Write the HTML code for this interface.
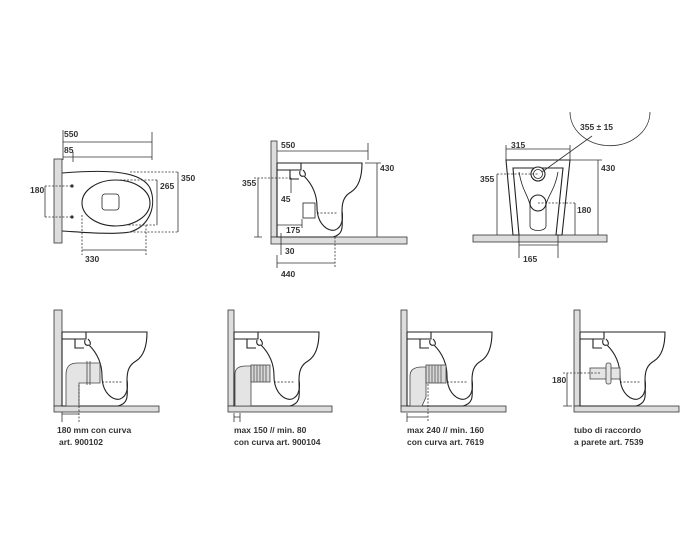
<!DOCTYPE html>
<html><head><meta charset="utf-8"><style>
html,body{margin:0;padding:0;background:#fff;}
svg{display:block;}
text{font-family:"Liberation Sans",Arial,sans-serif;font-size:8.5px;fill:#333;}
.b{font-weight:bold;}
</style></head><body>
<svg width="684" height="544" viewBox="0 0 684 544" xmlns="http://www.w3.org/2000/svg">
<defs>
<g id="prof" fill="none" stroke="#222" stroke-width="1.1">
  <path d="M0,-74 L85,-74 C85,-60 82,-50 74,-45 C67,-41 65,-35 65,-26 C65,-12 68,-3 56,0" fill="#fff"/>
  <path d="M0,-74 L0,0 L56,0"/>
  <path d="M0,-74 L24,-74 L24,-67 L0,-67"/>
  <path d="M13,-67 L13,-58 L22,-58"/>
  <path d="M23,-66 C22,-62 24,-60 27,-61 M26,-67 C28,-65 29,-63 28,-61"/>
  <path d="M27,-61 C33,-55 40,-45 40,-30 C40,-12 52,-5 58,-7 C66,-10 66,-20 65,-26"/>
  <path d="M40,-24 L61,-24" stroke-dasharray="2,1.5" stroke-width="0.8"/>
</g>
</defs>
<g stroke="#333" stroke-width="0.8" fill="none">
<!-- PLAN VIEW -->
<rect x="54" y="159" width="8" height="84" fill="#ddd"/>
<path d="M62,173 C100,170 140,169 150,188 C157,205 150,226 130,232 C110,235 80,232 62,231" stroke-width="1.1" stroke="#222"/>
<ellipse cx="116" cy="203" rx="34" ry="23" stroke-width="1.1" stroke="#222"/>
<rect x="102" y="194" width="17" height="16" rx="3" stroke="#222"/>
<circle cx="72" cy="186" r="1.2" fill="#333"/><circle cx="72" cy="217" r="1.2" fill="#333"/>
<path d="M63,130 L63,160 M63,142 L152,142 M152,132 L152,160 M63,157 L152,157 M73,152 L73,162"/>
<path d="M130,172 L178,172 M130,232 L178,232 M120,180 L157,180 M125,225 L157,225" stroke-dasharray="2,1.5"/>
<path d="M157,180 L157,225 M178,172 L178,232"/>
<path d="M82,215 L82,255 M146,225 L146,255" stroke-dasharray="2,1.5"/>
<path d="M82,250 L146,250"/>
<path d="M45,186 L72,186 M45,217 L72,217" stroke-dasharray="2,1.5"/>
<path d="M45,186 L45,217"/>
<!-- SIDE VIEW -->
<rect x="271" y="141" width="6" height="96" fill="#ddd"/>
<rect x="271" y="237" width="136" height="7" fill="#ddd"/>
<use href="#prof" x="277" y="237"/>
<rect x="303" y="203" width="12" height="15" stroke="#222"/>
<path d="M277,151 L368,151 M368,143 L368,160"/>
<path d="M365,163 L381,163 M377,163 L377,237"/>
<path d="M254,178 L291,178" stroke-dasharray="2,1.5"/>
<path d="M258,178 L258,237 M254,237 L262,237 M291,178 L291,193 M277,225 L302,225 M302,219 L302,228 M281,233 L281,255 M277,263 L335,263 M277,255 L277,268"/>
<path d="M335,237 L335,268" stroke-dasharray="2,1.5"/>
<!-- FRONT VIEW -->
<rect x="473" y="235" width="134" height="7" fill="#ddd"/>
<path d="M506,160 L570,160 L562,235 L556,235 L563,168 L513,168 L519,235 L513,235 Z" stroke="#222" stroke-width="1.1"/>
<path d="M519,172 C522,190 528,195 530,205 L530,226 C530,232 546,232 546,226 L546,205 C548,195 555,190 558,172" stroke="#222"/>
<circle cx="538" cy="174" r="7" stroke="#222" stroke-width="1.1" fill="#fff"/><circle cx="538" cy="174" r="4.5" stroke="#222"/>
<circle cx="538" cy="203" r="8" stroke="#222" stroke-width="1.1" fill="#fff"/>
<path d="M506,145 L506,160 M570,145 L570,160 M506,149 L570,149"/>
<path d="M570,160 L602,160 M598,160 L598,235"/>
<path d="M497,174 L538,174 M538,203 L575,203" stroke-dasharray="2,1.5"/>
<path d="M497,174 L497,235 M575,203 L575,235 M519,235 L519,258 M558,235 L558,258 M519,245 L558,245"/>
<path d="M542,172 L592,136"/>
<path d="M570,112 A38,32 0 0 0 650,112"/>
<!-- BOTTOM 1 -->
<rect x="54" y="310" width="8" height="96" fill="#ddd"/>
<rect x="54" y="406" width="105" height="6" fill="#ddd"/>
<use href="#prof" x="62" y="406"/>
<path d="M66,406 L66,375 C66,366 70,363 78,363 L100,363 L100,383 L79,383 L79,406 Z" fill="#e4e4e4" stroke="#444"/>
<path d="M87,361 L87,385 M90,361 L90,385" stroke="#444"/>
<path d="M79,385 L79,422" stroke-dasharray="2,1.5"/>
<path d="M62,412 L62,422 M62,414 L79,414"/>
<!-- BOTTOM 2 -->
<rect x="228" y="310" width="6" height="96" fill="#ddd"/>
<rect x="228" y="406" width="104" height="6" fill="#ddd"/>
<use href="#prof" x="234" y="406"/>
<path d="M235,406 L235,374 C235,368 240,366 246,366 L251,366 L251,406 Z" fill="#e4e4e4" stroke="#444"/>
<rect x="251" y="365" width="19" height="17" fill="#d8d8d8" stroke="#444"/>
<path d="M254,365 v17 M257,365 v17 M260,365 v17 M263,365 v17 M266,365 v17" stroke="#555"/>
<path d="M234,413 L234,422 M240,413 L240,422 M234,417 L240,417"/>
<!-- BOTTOM 3 -->
<rect x="401" y="310" width="6" height="96" fill="#ddd"/>
<rect x="401" y="406" width="105" height="6" fill="#ddd"/>
<use href="#prof" x="407" y="406"/>
<path d="M410,406 L410,376 C410,369 415,367 422,367 L426,367 L426,397 L422,406 Z" fill="#e4e4e4" stroke="#444"/>
<rect x="426" y="365" width="20" height="18" fill="#d8d8d8" stroke="#444"/>
<path d="M429,365 v18 M432,365 v18 M435,365 v18 M438,365 v18 M441,365 v18" stroke="#555"/>
<path d="M428,384 L428,421" stroke-dasharray="2,1.5"/>
<path d="M407,413 L407,422 M407,417 L428,417"/>
<!-- BOTTOM 4 -->
<rect x="574" y="310" width="6" height="96" fill="#ddd"/>
<rect x="574" y="406" width="105" height="6" fill="#ddd"/>
<use href="#prof" x="580" y="406"/>
<rect x="590" y="368" width="30" height="11" fill="#e4e4e4" stroke="#444"/>
<rect x="606" y="363" width="5" height="21" rx="2" fill="#e4e4e4" stroke="#444"/>
<path d="M563,373 L600,373" stroke-dasharray="2,1.5"/>
<path d="M567,373 L567,406 M563,406 L572,406"/>
</g>
<g class="b">
<text x="64" y="137">550</text><text x="64" y="153">85</text>
<text x="160" y="189">265</text><text x="181" y="181">350</text>
<text x="85" y="262">330</text><text x="30" y="193">180</text>
<text x="281" y="148">550</text><text x="380" y="171">430</text>
<text x="242" y="186">355</text><text x="281" y="202">45</text>
<text x="286" y="233">175</text><text x="285" y="254">30</text><text x="281" y="277">440</text>
<text x="511" y="148">315</text><text x="601" y="171">430</text>
<text x="480" y="182">355</text><text x="577" y="213">180</text><text x="523" y="262">165</text>
<text x="580" y="130">355 ± 15</text>
<text x="57" y="433">180 mm con curva</text><text x="59" y="445">art. 900102</text>
<text x="234" y="433">max 150 // min. 80</text><text x="234" y="445">con curva art. 900104</text>
<text x="407" y="433">max 240 // min. 160</text><text x="407" y="445">con curva art. 7619</text>
<text x="552" y="383">180</text>
<text x="574" y="433">tubo di raccordo</text><text x="574" y="445">a parete art. 7539</text>
</g>
</svg>
</body></html>
